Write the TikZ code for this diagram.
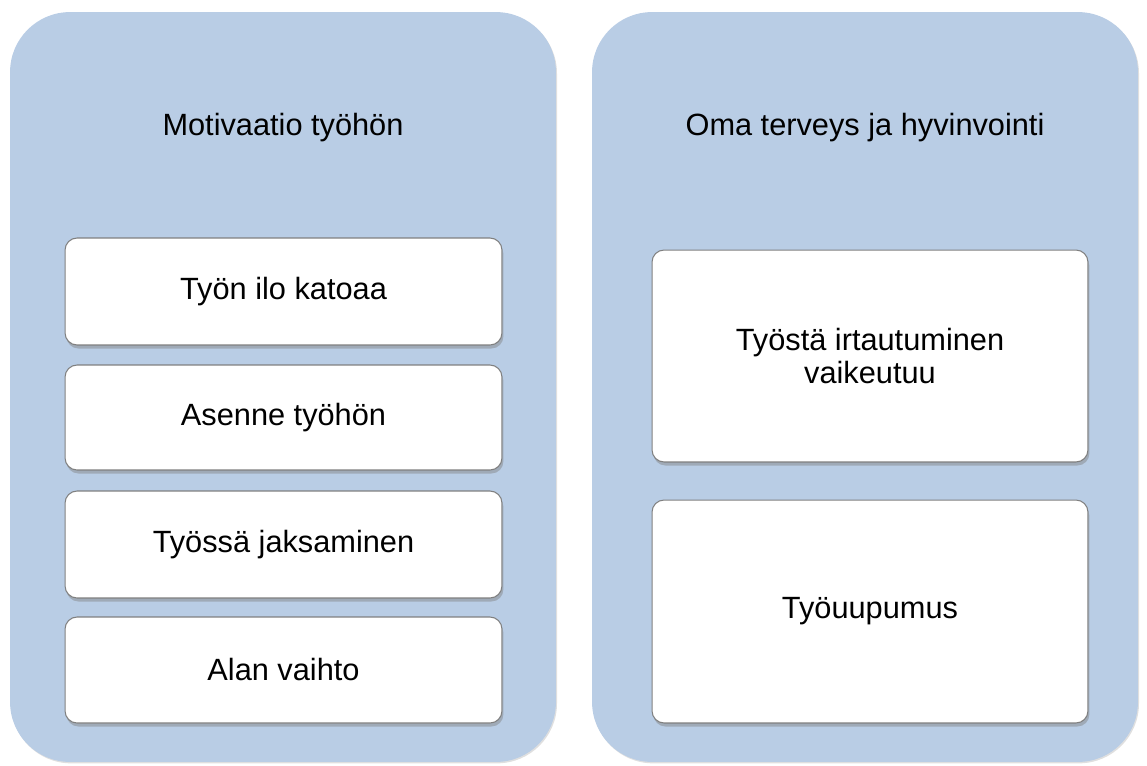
\documentclass[tikz,border=0pt]{standalone}
\usepackage{fontspec}
\setmainfont{Liberation Sans}
\usetikzlibrary{shadows}
\definecolor{panelblue}{HTML}{B9CDE5}
\tikzset{
  panel/.style={fill=panelblue,rounded corners=1.2cm,minimum width=10.92cm,minimum height=15cm,
    drop shadow={shadow xshift=.6pt,shadow yshift=-.8pt,opacity=.25}},
  itembox/.style={draw=black!50,line width=.6pt,fill=white,rounded corners=.24cm,minimum width=8.74cm,
    align=center,drop shadow={shadow xshift=.8pt,shadow yshift=-2pt,opacity=.45}},
  paneltitle/.style={font=\fontsize{17.5}{21}\selectfont}
}
\begin{document}
\begin{tikzpicture}[x=0.02cm,y=-0.02cm,font=\fontsize{17.5}{19}\selectfont]
\useasboundingbox (0,0) rectangle (1147,765);
% left panel
\node[panel] (motpanel) at (283,387) {};
\node[paneltitle] (mottitle) at (283,128) {Motivaatio työhön};
\node[itembox,minimum height=2.14cm] (ilo) at (283.5,291.5) {Työn ilo katoaa};
\node[itembox,minimum height=2.1cm] (asenne) at (283.5,417.5) {Asenne työhön};
\node[itembox,minimum height=2.14cm] (jaksaminen) at (283.5,544.5) {Työssä jaksaminen};
\node[itembox,minimum height=2.12cm] (vaihto) at (283.5,670) {Alan vaihto};
% right panel
\node[panel] (terpanel) at (865,387) {};
\node[paneltitle] (tertitle) at (865,128) {Oma terveys ja hyvinvointi};
\node[itembox,minimum width=8.72cm,minimum height=4.24cm] (irtautuminen) at (870,356) {Työstä irtautuminen\\vaikeutuu};
\node[itembox,minimum width=8.72cm,minimum height=4.46cm] (uupumus) at (870,611.5) {Työuupumus};
\end{tikzpicture}
\end{document}
